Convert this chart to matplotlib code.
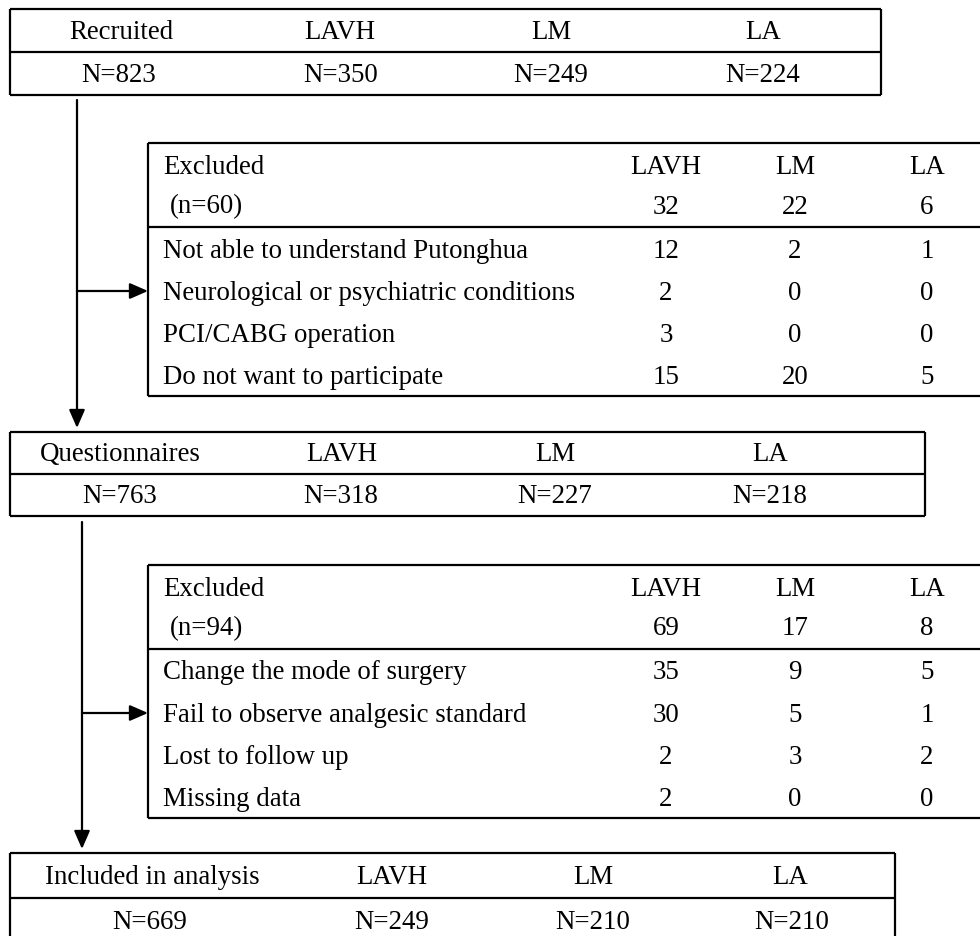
import matplotlib
matplotlib.use("Agg")
import matplotlib.pyplot as plt

# ---- data ----
groups = ["LAVH", "LM", "LA"]
recruited = [823, 350, 249, 224]
excl1_total = [60, 32, 22, 6]
excl1_reasons = ["Not able to understand Putonghua",
                 "Neurological or psychiatric conditions",
                 "PCI/CABG operation",
                 "Do not want to participate"]
excl1_values = [[12, 2, 1], [2, 0, 0], [3, 0, 0], [15, 20, 5]]
questionnaires = [763, 318, 227, 218]
excl2_total = [94, 69, 17, 8]
excl2_reasons = ["Change the mode of surgery",
                 "Fail to observe analgesic standard",
                 "Lost to follow up",
                 "Missing data"]
excl2_values = [[35, 9, 5], [30, 5, 1], [2, 3, 2], [2, 0, 0]]
included = [669, 249, 210, 210]

plt.rcParams['font.family'] = ['Liberation Serif', 'DejaVu Serif']
FS = 19.4
LW = 1.6

fig = plt.figure(figsize=(9.8, 9.37), dpi=100)
ax = fig.add_axes([0, 0, 1, 1])
ax.set_xlim(0, 980)
ax.set_ylim(937, 0)
ax.axis('off')


def line(x0, y0, x1, y1):
    ax.plot([x0, x1], [y0, y1], color='black', lw=LW, solid_capstyle='butt')


def arrow(x0, y0, x1, y1):
    ax.annotate("", xy=(x1, y1), xytext=(x0, y0),
                arrowprops=dict(arrowstyle='-|>,head_length=0.55,head_width=0.24',
                                lw=LW, color='black', shrinkA=0, shrinkB=0,
                                mutation_scale=20))


def txt(x, y, s, ha='center'):
    ax.text(x, y, s, ha=ha, va='center', fontsize=FS, color='black')


def main_box(x0, x1, top, mid, bot, title, values, cols, ncols):
    line(x0, top, x1, top)
    line(x0, mid, x1, mid)
    line(x0, bot, x1, bot)
    line(x0, top, x0, bot)
    line(x1, top, x1, bot)
    ya = (top + mid) / 2 + 1
    yb = (mid + bot) / 2 + 1
    if bot > 937:
        yb = mid + (mid - top) / 2 + 1
    txt(cols[0], ya, title)
    for g, c in zip(groups, cols[1:]):
        txt(c, ya, g)
    for v, c in zip(values, ncols):
        txt(c, yb, f"N={v}")


def excl_box(top, total, reasons, values):
    x0, x1 = 148, 980
    mid = top + 84
    bot = top + 253
    line(x0, top, x1, top)
    line(x0, mid, x1, mid)
    line(x0, bot, x1, bot)
    line(x0, top, x0, bot)
    cols = [666, 795, 927]
    txt(163, top + 24, "Excluded", ha='left')
    txt(170, top + 63, f"(n={total[0]})", ha='left')
    for g, c in zip(groups, cols):
        txt(c, top + 24, g)
    for v, c in zip(total[1:], cols):
        txt(c, top + 63, str(v))
    for i, (r, vals) in enumerate(zip(reasons, values)):
        y = top + 107 + i * 42.3
        txt(163, y, r, ha='left')
        for v, c in zip(vals, cols):
            txt(c, y, str(v))


# Recruited box
main_box(10, 881, 10, 53, 96, "Recruited", recruited,
         [121, 340, 551, 763], [119, 341, 551, 763])
# arrow down to questionnaires
arrow(77, 101, 77, 429)
# exclusion 1
excl_box(144, excl1_total, excl1_reasons, excl1_values)
arrow(77, 292, 148, 292)

# Questionnaires box
main_box(10, 925, 433, 475, 517, "Questionnaires", questionnaires,
         [120, 342, 555, 770], [120, 341, 555, 770])
arrow(82, 523, 82, 850)
excl_box(566, excl2_total, excl2_reasons, excl2_values)
arrow(82, 714, 148, 714)

# Included box (cut off at the bottom edge)
main_box(10, 895, 854, 899, 950, "Included in analysis", included,
         [152, 392, 593, 790], [150, 392, 593, 792])

fig.savefig("out.png", dpi=100, facecolor='white')
